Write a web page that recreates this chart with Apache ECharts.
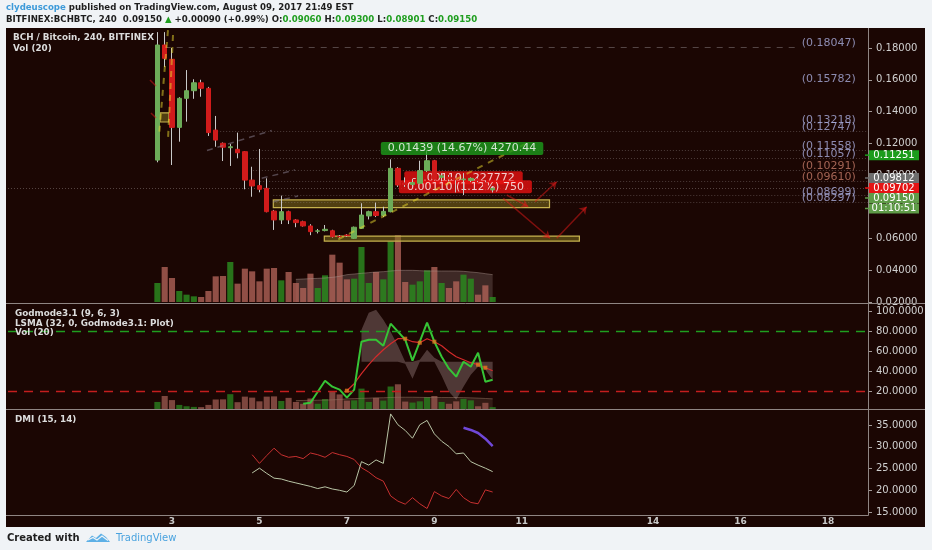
<!DOCTYPE html>
<html><head><meta charset="utf-8">
<script src="https://cdn.jsdelivr.net/npm/echarts/dist/echarts.min.js"></script>
<style>html,body{margin:0;padding:0;background:#f0f3f6;}#c{width:932px;height:550px;}</style>
</head><body><div id="c"></div>
<script>
// ---------- time axis ----------
const SLOT_COUNT = 118;     // 4h slots shown on the time axis
const DAY3_SLOT = 22;       // slot that starts day 3
const SLOTS_PER_DAY = 6;
const FIRST_SLOT = 20;      // slot of first candle
const dayTicks = [3, 5, 7, 9, 11, 14, 16, 18];

// ---------- candles (BCH/BTC, 240) ----------
const openP  = [0.1094,0.1819,0.1729,0.1300,0.1483,0.1531,0.1581,0.1546,0.1283,0.1200,0.1172,0.1162,0.1147,0.0968,0.0933,0.0916,0.0773,0.0717,0.0769,0.0717,0.0706,0.0679,0.0646,0.0650,0.0649,0.0613,0.0622,0.0601,0.0664,0.0742,0.0769,0.0745,0.0769,0.1042,0.0950,0.0940,0.0948,0.1028,0.1090,0.0985,0.0985,0.0980,0.0970,0.0966,0.0975,0.0951,0.0906];
const closeP = [0.1819,0.1735,0.1300,0.1483,0.1531,0.1581,0.1546,0.1267,0.1220,0.1175,0.1178,0.1140,0.0968,0.0931,0.0910,0.0769,0.0717,0.0769,0.0717,0.0700,0.0679,0.0643,0.0648,0.0658,0.0611,0.0611,0.0618,0.0671,0.0748,0.0769,0.0745,0.0771,0.1042,0.0937,0.0940,0.0952,0.1028,0.1090,0.0973,0.0995,0.0975,0.0970,0.0975,0.0979,0.0965,0.0910,0.0915];
const highP  = [0.1900,0.1900,0.1800,0.1490,0.1661,0.1603,0.1600,0.1555,0.1372,0.1205,0.1195,0.1267,0.1150,0.1052,0.1164,0.0979,0.0780,0.0870,0.0775,0.0722,0.0712,0.0690,0.0660,0.0685,0.0655,0.0622,0.0628,0.0675,0.0822,0.0775,0.0826,0.0800,0.1099,0.1050,0.0985,0.0975,0.1090,0.1158,0.1095,0.1012,0.1000,0.0990,0.1012,0.0985,0.0990,0.0965,0.0930];
const lowP   = [0.1080,0.1680,0.1063,0.1210,0.1336,0.1480,0.1493,0.1246,0.1178,0.1088,0.1057,0.1105,0.0910,0.0863,0.0891,0.0765,0.0654,0.0691,0.0691,0.0671,0.0675,0.0621,0.0632,0.0645,0.0605,0.0604,0.0610,0.0598,0.0660,0.0720,0.0735,0.0735,0.0765,0.0925,0.0925,0.0930,0.0945,0.1020,0.0965,0.0960,0.0960,0.0890,0.0874,0.0955,0.0955,0.0905,0.08901];
const volume = [57,105,72,33,22,17,15,33,77,78,120,55,100,92,62,100,102,65,90,57,42,85,42,80,142,118,68,70,165,57,90,68,182,200,60,52,62,95,105,57,42,62,82,70,22,50,15];
const VOLMA_START = 39;
const volMA = [68,69,70,71,72,74,77,82,84,86,88,90,91,93,95,95,95,94,93,93,93,93,93,92,90,88,85,82];

// ---------- Godmode3.1 / LSMA ----------
const GOD_START = 40;
const godPlot = [8,9,20,31,25,22,14,22,70,72,72,66,88,80,72,51,70,89,70,55,43,35,50,45,59,30,32];
const LSMA_START = 46;
const lsma = [21,28,38,47,55,62,68,73,73,70,69,73,70,66,60,55,52,49,47,44,41];
const lsmaDots = [46, 54, 56, 58, 64, 65];
const BAND_START = 48;
const bandLine = [82,99,102,92,80,66,48,33,52,62,54,36,20,12,25,37,45,42,32];
const bandBase = 50;
const godLevels = [80, 20];

// ---------- DMI (15, 14) ----------
const DMI_START = 33;
const diPlus  = [24.0,25.1,23.9,22.8,22.6,22.1,21.7,21.3,20.9,20.4,20.8,20.3,20.0,19.6,21.1,26.6,25.8,27.0,26.2,37.6,35.1,33.8,32.0,35.1,36.1,33.0,31.3,30.1,28.4,28.6,26.6,25.8,25.1,24.3];
const diMinus = [28.2,26.2,28.0,29.7,28.2,27.6,27.8,27.3,28.6,28.2,27.6,28.7,28.2,27.8,27.1,25.2,24.2,22.9,22.1,18.7,17.5,16.8,18.3,16.9,15.8,19.7,18.7,18.1,20.2,18.3,17.2,16.9,20.1,19.6];
const ADX_START = 62;
const adx = [34.4,33.9,33.2,31.9,30.2];

// ---------- drawings (slot, price) ----------
const fibLevels = [0.18047,0.15782,0.13218,0.12747,0.11558,0.11057,0.10291,0.09610,0.08699,0.08297];
const fibWarm   = [0.10291,0.09610];
const fibLineStart = [21.0,null,null,28.2,33.1,32.7,33.1,34.1,35.9,35.9];
const FIB_LABEL_SLOT = 108.4;
const fibDashedEnd = 108.2;
const zoneRects = [[35.9,0.0843,73.8,0.0795],[42.9,0.0615,77.9,0.0584],[20.36,0.1391,21.59,0.1334]];
const yellowTrend = [[44.82,0.05950,71.13,0.12111],[21.45,0.1913,20.22,0.1246],[22.14,0.1882,21.45,0.1221]];
const greyTrend = [[26.8,0.11544,35.68,0.12804],[34.31,0.09793,38.88,0.10315],[35.90,0.08318,39.29,0.08678]];
const redArrows = [[67.93,0.08741,70.89,0.08004],[71.81,0.08318,74.79,0.09578],[67.46,0.08532,73.87,0.06013],[74.79,0.06013,78.90,0.08003]];
const redMarks = [[18.98,0.1598,19.81,0.1561],[19.12,0.1391,19.81,0.1359]];
const measureUp = {slot:61.8, price:0.11670, text:'0.01439 (14.67%) 4270.44'};
const measureDown = [{slot:62.0, price:0.09830, text:'-0.00110  -227772'},{slot:62.26, price:0.09263, text:'0.00110 (1.12%) 750'}];
const sideValues = [0.11251, 0.09812, 0.09702, closeP[closeP.length-1]];
const timerText = '01:10:51';

// ---------- helpers ----------
const slots = Array.from({length: SLOT_COUNT}, (_, i) => String(i));
const slotDay = i => 3 + (i - DAY3_SLOT) / SLOTS_PER_DAY;
const isDayTick = i => { const d = slotDay(i); return Number.isInteger(d) && dayTicks.indexOf(d) >= 0; };
const pairs = (start, arr) => arr.map((v, i) => [start + i, v]);
const FONT = 'DejaVu Sans';
const UP = '#6cab58', DOWN = '#d11b1b';

const candleWick = openP.map((o, i) => [FIRST_SLOT + i, o, closeP[i], lowP[i], highP[i]]);
const candleBody = openP.map((o, i) => [FIRST_SLOT + i, o, closeP[i], Math.min(o, closeP[i]), Math.max(o, closeP[i])]);
const volBars = (up, down) => volume.map((v, i) => ({value: [FIRST_SLOT + i, v], itemStyle: {color: closeP[i] >= openP[i] ? up : down}}));

function segs(list, style, extra) {
  return Object.assign({
    type: 'lines', coordinateSystem: 'cartesian2d', xAxisIndex: 1, yAxisIndex: 0,
    silent: true, symbol: 'none', lineStyle: style, z: 4,
    data: list.map(s => ({coords: [[s[0], s[1]], [s[2], s[3]]]}))
  }, extra || {});
}

const fibSegs = [];
fibLevels.forEach((lv, i) => { if (fibLineStart[i] != null && i > 0) fibSegs.push([fibLineStart[i], lv, SLOT_COUNT - 0.5, lv]); });
const fibTop = [[fibLineStart[0], fibLevels[0], fibDashedEnd, fibLevels[0]]];
const lastClose = closeP[closeP.length - 1];
const priceLine = [[-0.5, lastClose, SLOT_COUNT - 0.5, lastClose]];

const bandBaseData = bandLine.map((v, i) => [BAND_START + i, Math.min(v, bandBase)]);
const bandDeltaData = bandLine.map((v, i) => [BAND_START + i, Math.abs(v - bandBase)]);

const chart = echarts.init(document.getElementById('c'), null, {width: 932, height: 550});

const yLabel = (fmt) => ({color: '#d0d0d0', fontSize: 10, fontFamily: FONT, margin: 8, formatter: fmt});
const yTick = {show: true, length: 4, lineStyle: {color: '#a09896'}};
const noLine = {show: false, onZero: false};

const option = {
  backgroundColor: '#f0f3f6',
  animation: false,
  textStyle: {fontFamily: FONT},
  grid: [
    {left: 8, width: 860, top: 28, height: 274},
    {left: 8, width: 860, top: 303, height: 108.7},
    {left: 8, width: 860, top: 409, height: 103}
  ],
  xAxis: [
    {type: 'category', gridIndex: 0, data: slots, show: false, axisLine: noLine},
    {type: 'value', gridIndex: 0, min: -0.5, max: SLOT_COUNT - 0.5, show: false, position: 'top', axisLine: noLine},
    {type: 'category', gridIndex: 1, data: slots, show: false, axisLine: noLine},
    {type: 'category', gridIndex: 2, data: slots,
      axisLine: noLine, axisTick: {show: false}, splitLine: {show: false},
      axisLabel: {interval: (i) => isDayTick(i), formatter: (v, i) => String(slotDay(i)),
        color: '#c8c8c8', fontSize: 9, fontWeight: 'bold', fontFamily: FONT, margin: 5}}
  ],
  yAxis: [
    {type: 'value', gridIndex: 0, position: 'right', min: 0.02, max: 0.1926, interval: 0.02,
      axisLine: noLine, axisTick: yTick, splitLine: {show: false},
      axisLabel: Object.assign(yLabel(v => v.toFixed(5)), {showMaxLabel: false})},
    {type: 'value', gridIndex: 0, min: 0, max: 822, show: false, axisLine: noLine},
    {type: 'value', gridIndex: 1, position: 'right', min: 0, max: 108.7, interval: 20,
      axisLine: noLine, axisTick: yTick, splitLine: {show: false},
      axisLabel: Object.assign(yLabel(v => v.toFixed(4)), {showMinLabel: false, showMaxLabel: false})},
    {type: 'value', gridIndex: 1, min: -22, max: 858, show: false, axisLine: noLine},
    {type: 'value', gridIndex: 2, position: 'right', min: 15, max: 38.73, interval: 5,
      axisLine: noLine, axisTick: yTick, splitLine: {show: false},
      axisLabel: Object.assign(yLabel(v => v.toFixed(4)), {showMaxLabel: false})}
  ],
  series: [
    // main panel volume
    {type: 'bar', xAxisIndex: 0, yAxisIndex: 1, barWidth: '84%', data: volBars('rgba(42,135,30,0.85)', 'rgba(175,98,88,0.8)'), silent: true, z: 1},
    {type: 'line', xAxisIndex: 0, yAxisIndex: 1, data: pairs(VOLMA_START, volMA), symbol: 'none',
      lineStyle: {width: 1, color: 'rgba(170,150,145,0.45)'}, areaStyle: {color: 'rgba(160,140,135,0.38)'}, silent: true, z: 1},
    // zones
    {type: 'custom', xAxisIndex: 1, yAxisIndex: 0, data: zoneRects, silent: true, z: 2,
      renderItem: (params, api) => {
        const a = api.coord([api.value(0), api.value(1)]);
        const b = api.coord([api.value(2), api.value(3)]);
        return {type: 'rect', shape: {x: a[0], y: a[1], width: b[0] - a[0], height: b[1] - a[1]},
          style: {fill: 'rgba(125,112,30,0.55)', stroke: '#c6b24e', lineWidth: 1.2}};
      }},
    // fib / price lines
    segs(fibSegs, {color: 'rgba(160,148,148,0.75)', width: 1, type: [1, 2]}, {z: 2}),
    segs(fibTop, {color: 'rgba(170,165,170,0.8)', width: 1, type: [6, 6]}, {z: 2}),
    segs(priceLine, {color: 'rgba(170,160,160,0.8)', width: 1, type: [1, 2]}, {z: 2}),
    // measurement labels under candles
    {type: 'scatter', xAxisIndex: 1, yAxisIndex: 0, symbolSize: 0, silent: true, z: 2,
      data: measureDown.map(m => ({value: [m.slot, m.price], label: {formatter: m.text}})),
      label: {show: true, position: 'inside', color: '#fff', fontSize: 11, fontFamily: FONT,
        backgroundColor: '#e81212', padding: [1, 8, 1, 8], borderRadius: 2}},
    // candles
    {type: 'candlestick', xAxisIndex: 0, yAxisIndex: 0, data: candleWick, encode: {x: 0, y: [1, 2, 3, 4]},
      barWidth: 1, silent: true, z: 3,
      itemStyle: {color: '#c9c9c9', color0: '#c9c9c9', borderColor: '#c9c9c9', borderColor0: '#c9c9c9', borderWidth: 1}},
    {type: 'candlestick', xAxisIndex: 0, yAxisIndex: 0, data: candleBody, encode: {x: 0, y: [1, 2, 3, 4]},
      barWidth: 5, silent: true, z: 3,
      itemStyle: {color: UP, color0: DOWN, borderColor: UP, borderColor0: DOWN, borderWidth: 1}},
    // trend drawings
    segs(yellowTrend, {color: '#e8d82e', width: 2, type: [6, 6]}, {z: 4}),
    segs(greyTrend, {color: '#8e8598', width: 1.5, type: [6, 5]}, {z: 4}),
    segs(redArrows, {color: '#e41a1a', width: 1.5}, {symbol: ['none', 'arrow'], symbolSize: 7, z: 4}),
    segs(redMarks, {color: '#e41a1a', width: 1.5}, {z: 4}),
    // measurement label over candles
    {type: 'scatter', xAxisIndex: 1, yAxisIndex: 0, symbolSize: 0, silent: true, z: 5,
      data: [{value: [measureUp.slot, measureUp.price]}],
      label: {show: true, position: 'inside', formatter: measureUp.text, color: '#fff', fontSize: 11, fontFamily: FONT,
        backgroundColor: '#1c9c1c', padding: [1, 7, 1, 7], borderRadius: 2}},
    // fib labels
    {type: 'scatter', xAxisIndex: 1, yAxisIndex: 0, symbolSize: 0, silent: true, z: 5,
      data: fibLevels.map(lv => ({value: [FIB_LABEL_SLOT, lv],
        label: {color: fibWarm.indexOf(lv) >= 0 ? '#c47a68' : '#a9acdc'}})),
      label: {show: true, position: [0, -4], align: 'left', verticalAlign: 'middle', fontSize: 11, fontFamily: FONT,
        formatter: p => '(' + p.value[1].toFixed(5) + ')'}},

    // ---- Godmode panel ----
    {type: 'bar', xAxisIndex: 2, yAxisIndex: 3, barWidth: '84%', data: volBars('rgba(40,120,28,0.85)', 'rgba(150,86,78,0.8)'), silent: true, z: 1},
    {type: 'line', xAxisIndex: 2, yAxisIndex: 3, data: pairs(VOLMA_START, volMA), symbol: 'none',
      lineStyle: {width: 1, color: 'rgba(150,120,100,0.5)'}, areaStyle: {color: 'rgba(140,110,90,0.3)'}, silent: true, z: 1},
    {type: 'line', xAxisIndex: 2, yAxisIndex: 2, data: bandBaseData, stack: 'band', symbol: 'none',
      lineStyle: {opacity: 0}, silent: true, z: 2},
    {type: 'line', xAxisIndex: 2, yAxisIndex: 2, data: bandDeltaData, stack: 'band', symbol: 'none',
      lineStyle: {opacity: 0}, areaStyle: {color: 'rgba(175,150,150,0.5)'}, silent: true, z: 2},
    {type: 'line', xAxisIndex: 2, yAxisIndex: 2, data: pairs(LSMA_START, lsma), symbol: 'none',
      lineStyle: {width: 1.2, color: '#d42a2a'}, silent: true, z: 3},
    {type: 'line', xAxisIndex: 2, yAxisIndex: 2, data: pairs(GOD_START, godPlot), symbol: 'none',
      lineStyle: {width: 2, color: '#36c436'}, silent: true, z: 4,
      markLine: {silent: true, symbol: 'none', label: {show: false},
        data: godLevels.map((lv, i) => ({yAxis: lv, lineStyle: {color: i === 0 ? '#1f9e1f' : '#c41e1e', width: 1.3, type: [9, 7]}}))}},
    {type: 'scatter', xAxisIndex: 2, yAxisIndex: 2, symbol: 'rect', symbolSize: 4, silent: true, z: 5,
      itemStyle: {color: '#e07a20'},
      data: lsmaDots.map(s => [s, lsma[s - LSMA_START]])},

    // ---- DMI panel ----
    {type: 'line', xAxisIndex: 3, yAxisIndex: 4, data: pairs(DMI_START, diMinus), symbol: 'none',
      lineStyle: {width: 1, color: '#c83030'}, silent: true},
    {type: 'line', xAxisIndex: 3, yAxisIndex: 4, data: pairs(DMI_START, diPlus), symbol: 'none',
      lineStyle: {width: 1, color: '#b9c5a6'}, silent: true},
    {type: 'line', xAxisIndex: 3, yAxisIndex: 4, data: pairs(ADX_START, adx), symbol: 'none',
      lineStyle: {width: 2.5, color: '#7048d8'}, silent: true}
  ]
};
chart.setOption(option);

// ---------- frame, legends, header, right-side price tags ----------
const last = openP.length - 1;
const chg = closeP[last] - openP[last];
const pct = chg / openP[last] * 100;
const sgn = v => (v >= 0 ? '+' : '');
const hdr = 'bold 8.6px "DejaVu Sans"';
const leg = 'bold 8.8px "DejaVu Sans"';
const gfx = [
  {type: 'rect', z: -10, silent: true, shape: {x: 6, y: 28, width: 919, height: 499}, style: {fill: '#1b0603'}},
  {type: 'line', z: 10, silent: true, shape: {x1: 6, y1: 303.5, x2: 925, y2: 303.5}, style: {stroke: '#8f8583', lineWidth: 1}},
  {type: 'line', z: 10, silent: true, shape: {x1: 6, y1: 409.5, x2: 925, y2: 409.5}, style: {stroke: '#8f8583', lineWidth: 1}},
  {type: 'line', z: 10, silent: true, shape: {x1: 6, y1: 515.5, x2: 868.5, y2: 515.5}, style: {stroke: '#8f8583', lineWidth: 1}},
  {type: 'line', z: 10, silent: true, shape: {x1: 868.5, y1: 28, x2: 868.5, y2: 515.5}, style: {stroke: '#8f8583', lineWidth: 1}},
  {type: 'text', z: 20, x: 6, y: 8, style: {verticalAlign: 'middle',
    text: '{b|clydeuscope}{a| published on TradingView.com, August 09, 2017 21:49 EST}',
    rich: {b: {fill: '#3d9ad9', font: hdr}, a: {fill: '#1e1e1e', font: hdr}}}},
  {type: 'text', z: 20, x: 6, y: 19.5, style: {verticalAlign: 'middle',
    text: '{a|BITFINEX:BCHBTC, 240  ' + closeP[last].toFixed(5) + ' }{g|▲}{a| ' + sgn(chg) + chg.toFixed(5) + ' (' + sgn(pct) + pct.toFixed(2) + '%) O:}{g|' + openP[last].toFixed(5) +
      '}{a| H:}{g|' + highP[last].toFixed(5) + '}{a| L:}{g|' + lowP[last].toFixed(5) + '}{a| C:}{g|' + closeP[last].toFixed(5) + '}',
    rich: {a: {fill: '#1e1e1e', font: hdr}, g: {fill: '#1f9e1f', font: hdr}}}},
  {type: 'text', z: 20, x: 13, y: 38, style: {text: 'BCH / Bitcoin, 240, BITFINEX', fill: '#dcdcdc', font: leg, verticalAlign: 'middle'}},
  {type: 'text', z: 20, x: 13, y: 48.5, style: {text: 'Vol (20)', fill: '#dcdcdc', font: leg, verticalAlign: 'middle'}},
  {type: 'text', z: 20, x: 15, y: 314, style: {text: 'Godmode3.1 (9, 6, 3)', fill: '#dcdcdc', font: leg, verticalAlign: 'middle'}},
  {type: 'text', z: 20, x: 15, y: 323.5, style: {text: 'LSMA (32, 0, Godmode3.1: Plot)', fill: '#dcdcdc', font: leg, verticalAlign: 'middle'}},
  {type: 'text', z: 20, x: 15, y: 333, style: {text: 'Vol (20)', fill: '#dcdcdc', font: leg, verticalAlign: 'middle'}},
  {type: 'text', z: 20, x: 15, y: 419.5, style: {text: 'DMI (15, 14)', fill: '#dcdcdc', font: leg, verticalAlign: 'middle'}},
  {type: 'text', z: 20, x: 7, y: 538.5, style: {text: 'Created with', fill: '#1e1e1e', font: 'bold 10px "DejaVu Sans"', verticalAlign: 'middle'}},
  {type: 'polygon', z: 20, silent: true, shape: {points: [[86, 542], [92, 535.5], [96, 538], [101, 533.5], [106, 537], [110, 542]]}, style: {fill: '#5db0e6'}},
  {type: 'polyline', z: 21, silent: true, shape: {points: [[88, 540], [93, 537.5], [97, 540], [102, 536], [108, 540.5]]}, style: {stroke: '#f0f3f6', lineWidth: 1.2, fill: null}},
  {type: 'text', z: 20, x: 116, y: 538.5, style: {text: 'TradingView', fill: '#4aa3df', font: '10px "DejaVu Sans"', verticalAlign: 'middle'}}
];

// right-side price tags, stacked so they don't overlap
const tagColors = ['#1c9c1c', '#6e6e6e', '#e41414', '#5f9b48'];
let prevY = -Infinity;
const tagYs = sideValues.map(v => {
  let y = chart.convertToPixel({yAxisIndex: 0}, v);
  y = Math.max(y, prevY + 10);
  prevY = y;
  return y;
});
tagYs.push(prevY + 10.5);
tagYs.forEach((y, i) => {
  const color = i < sideValues.length ? tagColors[i] : '#5f9b48';
  const text = i < sideValues.length ? sideValues[i].toFixed(5) : timerText;
  gfx.push({type: 'rect', z: 30, silent: true, shape: {x: 869, y: y - 5, width: 50, height: 10}, style: {fill: color}});
  gfx.push({type: 'rect', z: 30, silent: true, shape: {x: 865, y: y - 0.75, width: 4, height: 1.5}, style: {fill: color}});
  gfx.push({type: 'text', z: 31, silent: true, x: 894, y: y, style: {text: text, fill: '#fff', font: '10px "DejaVu Sans"', align: 'center', verticalAlign: 'middle'}});
});
chart.setOption({graphic: gfx});
</script>
</body></html>
